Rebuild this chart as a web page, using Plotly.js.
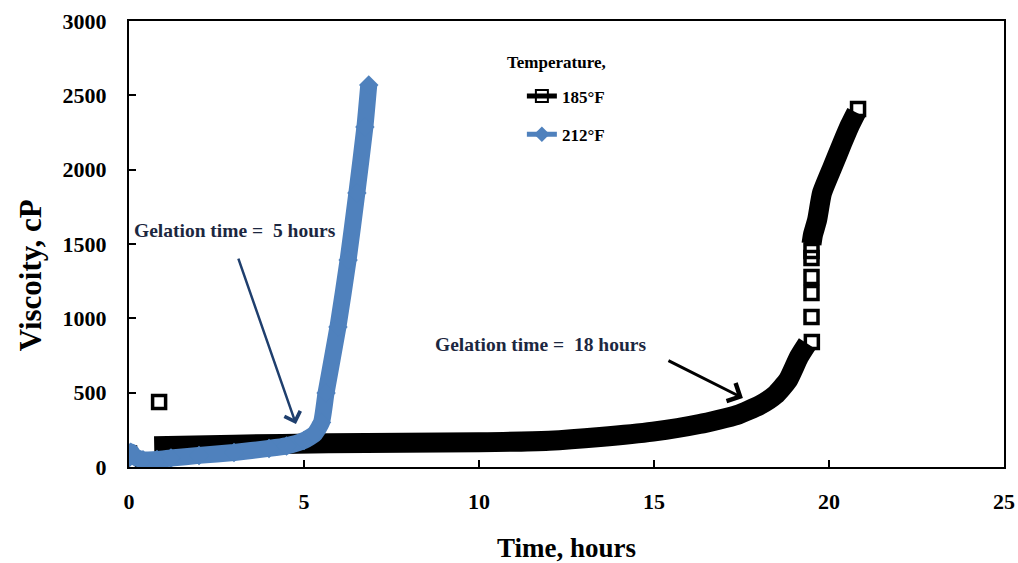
<!DOCTYPE html>
<html>
<head>
<meta charset="utf-8">
<script src="https://cdn.plot.ly/plotly-3.0.1.min.js"></script>
<style>html,body{margin:0;padding:0;background:#fff;}#chart{width:1018px;height:563px;}</style>
</head>
<body>
<div id="chart"></div>
<script>
// ---- data ----
// 185°F: readings that form the dense band (null = gap in the band)
const bandTime185 = [0.72, 3, 5.7, 10, 12, 13.46, 14.97, 16.3, 17.37, 18.03, 18.46, 18.83, 19.14, 19.38, null,
  19.5, 19.54, 19.66, 19.8, 20.1, 20.38, 20.6, 20.78];
const bandVisc185 = [140, 150, 160, 166, 177, 202, 238, 289, 350, 417, 484, 585, 740, 830, null,
  1500, 1560, 1661, 1843, 2018, 2179, 2300, 2385];
// 185°F: readings that stand apart as separate open squares (null = no joining line)
const sqTime185 = [0.0, null, 0.03, null, 0.86, null, 19.51, null, 19.5, null, 19.5, null,
  19.5, null, 19.5, null, 19.5, null, 20.83];
const sqVisc185 = [90, null, 0, null, 437, null, 841, null, 1009, null, 1170, null,
  1278, null, 1406, null, 1453, null, 2408];

// 212°F series
const time212 = [0.0, 0.05, 0.15, 0.4, 0.8, 1.2, 2, 3, 4, 4.5, 5, 5.3, 5.5, 5.63, 5.97, 6.26, 6.51, 6.74, 6.85];
const visc212 = [60, 100, 70, 48, 50, 60, 78, 98, 125, 142, 178, 222, 300, 498, 942, 1392, 1843, 2287, 2570];

const seriesNames = ['185°F', '212°F'];
const xTicks = [0, 5, 10, 15, 20, 25];
const yTicks = [0, 500, 1000, 1500, 2000, 2500, 3000];

const serif = 'Liberation Serif, Times New Roman, serif';

const traces = [
  {
    x: bandTime185, y: bandVisc185, name: seriesNames[0], legendgroup: 'a', showlegend: false,
    type: 'scatter', mode: 'lines',
    line: {color: '#000000', width: 20, shape: 'spline', smoothing: 0.5},
    connectgaps: false
  },
  {
    x: sqTime185, y: sqVisc185, name: seriesNames[0], legendgroup: 'a',
    type: 'scatter', mode: 'lines+markers',
    line: {color: '#000000', width: 3},
    marker: {symbol: 'square-open', size: 13, color: '#000000', line: {width: 3.5, color: '#000000'}},
    connectgaps: false
  },
  {
    x: time212, y: visc212, name: seriesNames[1], legendgroup: 'b',
    type: 'scatter', mode: 'lines+markers',
    line: {color: '#4f81bd', width: 17, shape: 'spline', smoothing: 0.5},
    marker: {symbol: 'diamond', size: 15, color: '#4f81bd'}
  }
];

const layout = {
  width: 1018, height: 563,
  margin: {l: 129, r: 14, t: 21, b: 96},
  paper_bgcolor: '#ffffff', plot_bgcolor: '#ffffff',
  font: {family: serif, color: '#000000'},
  showlegend: true,
  legend: {
    x: 0.449, y: 0.871, xanchor: 'left', yanchor: 'top',
    bgcolor: 'rgba(0,0,0,0)', borderwidth: 0,
    font: {family: serif, size: 17, weight: 'bold', color: '#000000'},
    itemsizing: 'constant', traceorder: 'grouped', tracegroupgap: 13
  },
  xaxis: {
    range: [0, 25], tickvals: xTicks, ticks: 'inside', ticklen: 7, tickwidth: 2, tickcolor: '#000',
    showline: true, linewidth: 2, linecolor: '#000', mirror: true,
    showgrid: false, zeroline: false,
    tickfont: {family: serif, size: 22, weight: 'bold', color: '#000'},
    ticklabelstandoff: 14,
    title: {text: 'Time, hours', font: {family: serif, size: 27, weight: 'bold', color: '#000'}, standoff: 28}
  },
  yaxis: {
    range: [0, 3000], tickvals: yTicks, ticks: 'inside', ticklen: 7, tickwidth: 2, tickcolor: '#000',
    showline: true, linewidth: 2, linecolor: '#000', mirror: true,
    showgrid: false, zeroline: false,
    tickfont: {family: serif, size: 22, weight: 'bold', color: '#000'},
    ticklabelstandoff: 16
  },
  annotations: [
    {xref: 'paper', yref: 'paper', x: -0.113, y: 0.43, xanchor: 'center', yanchor: 'middle',
     text: 'Viscoity, cP', textangle: -90,
     showarrow: false, font: {family: serif, size: 31, weight: 'bold', color: '#000'}},
    {xref: 'paper', yref: 'paper', x: 0.43, y: 0.908, xanchor: 'left', yanchor: 'middle', text: 'Temperature,',
     showarrow: false, font: {family: serif, size: 17, weight: 'bold', color: '#000'}},
    {xref: 'x', yref: 'y', x: 0.086, y: 1594, xanchor: 'left', yanchor: 'middle', text: 'Gelation time =\u00a0 5 hours',
     showarrow: false, font: {family: serif, size: 19.5, weight: 'bold', color: '#1c2740'}},
    {xref: 'x', yref: 'y', x: 8.69, y: 821, xanchor: 'left', yanchor: 'middle', text: 'Gelation time =\u00a0 18 hours',
     showarrow: false, font: {family: serif, size: 19.5, weight: 'bold', color: '#1c2740'}},
    {xref: 'x', yref: 'y', axref: 'x', ayref: 'y', x: 4.77, y: 289, ax: 3.11, ay: 1412, text: '',
     showarrow: true, arrowhead: 4, arrowsize: 1.3, arrowwidth: 2.5, arrowcolor: '#1f3f6e'},
    {xref: 'x', yref: 'y', axref: 'x', ayref: 'y', x: 17.54, y: 464, ax: 15.37, ay: 720, text: '',
     showarrow: true, arrowhead: 4, arrowsize: 1.3, arrowwidth: 3, arrowcolor: '#000000'}
  ]
};

Plotly.newPlot('chart', traces, layout, {staticPlot: true, displayModeBar: false});
</script>
</body>
</html>
